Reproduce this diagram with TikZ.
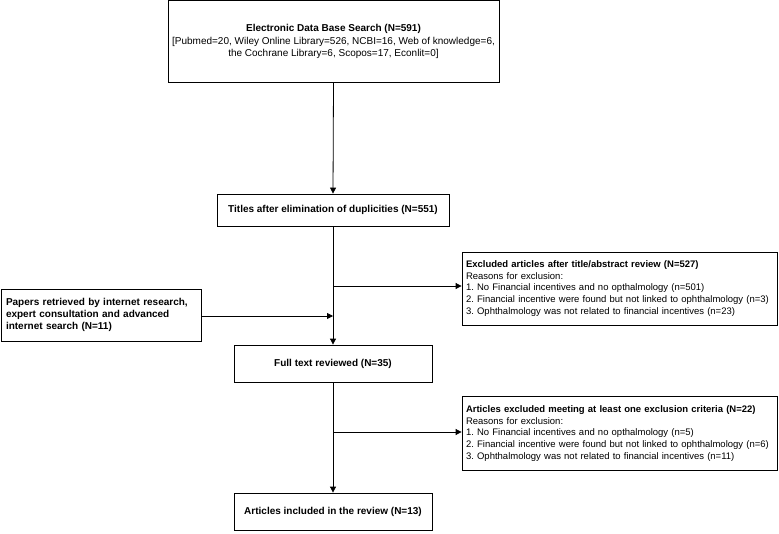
\documentclass[tikz,border=0pt]{standalone}
\usepackage{fontspec}
\setmainfont{Liberation Sans}
\usetikzlibrary{arrows.meta}
\frenchspacing
\begin{document}
\begin{tikzpicture}[x=1pt,y=-1pt,
  every node/.style={font=\fontsize{10}{12.2}\selectfont},
  box/.style={draw, line width=0.8pt, inner xsep=4pt, inner ysep=0pt},
  exclbox/.style={box, inner xsep=4pt, text width=307pt, align=left,
    font=\fontsize{9.5}{11.6}\selectfont},
  flow/.style={line width=0.8pt, -{Triangle[length=6pt,width=6pt]}}]
\useasboundingbox (0,0) rectangle (779,533);
% boxes
\node[box, minimum width=331pt, minimum height=82pt, align=center] (search) at (333.5,41.5)
  {\textbf{Electronic Data Base Search (N=591)}\\{[}Pubmed=20, Wiley Online Library=526, NCBI=16, Web of knowledge=6,\\the Cochrane Library=6, Scopos=17, Econlit=0{]}};
\node[box, minimum width=232pt, minimum height=32pt] (titles) at (333,210)
  {\textbf{Titles after elimination of duplicities (N=551)}};
\node[exclbox, minimum height=73pt] (excl1) at (619.5,288.5)
  {\textbf{Excluded articles after title/abstract review (N=527)}\\Reasons for exclusion:\\1. No Financial incentives and no opthalmology (n=501)\\2. Financial incentive were found but not linked to ophthalmology (n=3)\\3. Ophthalmology was not related to financial incentives (n=23)};
\node[box, inner xsep=5pt, minimum height=52pt, text width=190pt, align=left] (papers) at (101,315)
  {\textbf{Papers retrieved by internet research,\\expert consultation and advanced\\internet search (N=11)}};
\node[box, minimum width=198pt, minimum height=37pt] (full) at (333,363.5)
  {\textbf{Full text reviewed (N=35)}};
\node[exclbox, minimum height=74pt] (excl2) at (619.5,433.5)
  {\textbf{Articles excluded meeting at least one exclusion criteria (N=22)}\\Reasons for exclusion:\\1. No Financial incentives and no opthalmology (n=5)\\2. Financial incentive were found but not linked to ophthalmology (n=6)\\3. Ophthalmology was not related to financial incentives (n=11)};
\node[box, minimum width=198pt, minimum height=37pt] (incl) at (333,511.5)
  {\textbf{Articles included in the review (N=13)}};
% junctions
\coordinate (j1) at (333,286);
\coordinate (j2) at (333,316);
\coordinate (j3) at (333,432);
% connectors
\draw[flow] (search.south) -- (titles.north);
\draw[flow] (titles.south) -- (full.north);
\draw[flow] (j1) -- (excl1.west |- j1);
\draw[flow] (papers.east |- j2) -- (j2);
\draw[flow] (full.south) -- (incl.north);
\draw[flow] (j3) -- (excl2.west |- j3);
\end{tikzpicture}
\end{document}
